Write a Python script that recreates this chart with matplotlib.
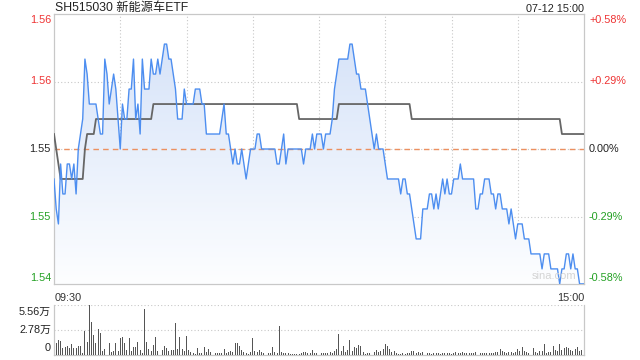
import numpy as np
import matplotlib
matplotlib.use('Agg')
import matplotlib.pyplot as plt
from matplotlib.colors import LinearSegmentedColormap
from matplotlib import transforms

title = "SH515030 新能源车ETF"
date_label = "07-12 15:00"
prev_close = 1.553
pct_levels = [0.58, 0.29, 0.0, -0.29, -0.58]
price_labels = ["1.56", "1.56", "1.55", "1.55", "1.54"]
pct_labels = ["+0.58%", "+0.29%", "0.00%", "-0.29%", "-0.58%"]
label_colors = ["#ee3333", "#ee3333", "#222222", "#22a022", "#22a022"]
time_labels = ["09:30", "15:00"]
vol_levels = [5.56, 2.78, 0]
vol_labels = ["5.56万", "2.78万", "0"]

prices = [
    1.551, 1.549, 1.548, 1.552, 1.550, 1.550, 1.552, 1.552, 1.551, 1.552,
    1.550, 1.553, 1.554, 1.555, 1.559, 1.558, 1.556, 1.556, 1.556, 1.556,
    1.555, 1.554, 1.554, 1.559, 1.558, 1.556, 1.557, 1.558, 1.557, 1.555,
    1.553, 1.556, 1.555, 1.555, 1.557, 1.557, 1.559, 1.555, 1.556, 1.554,
    1.559, 1.557, 1.557, 1.557, 1.559, 1.558, 1.558, 1.559, 1.558, 1.559,
    1.560, 1.560, 1.559, 1.559, 1.558, 1.557, 1.555, 1.555, 1.555, 1.557,
    1.556, 1.556, 1.556, 1.556, 1.557, 1.557, 1.557, 1.556, 1.556, 1.554,
    1.554, 1.554, 1.554, 1.554, 1.554, 1.554, 1.555, 1.556, 1.554, 1.554,
    1.553, 1.552, 1.553, 1.552, 1.552, 1.553, 1.552, 1.551, 1.552, 1.553,
    1.553, 1.553, 1.554, 1.554, 1.553, 1.553, 1.553, 1.553, 1.553, 1.553,
    1.553, 1.552, 1.552, 1.553, 1.554, 1.552, 1.553, 1.553, 1.553, 1.553,
    1.553, 1.553, 1.553, 1.552, 1.553, 1.553, 1.553, 1.554, 1.553, 1.554,
    1.554, 1.554, 1.553, 1.554, 1.554, 1.554, 1.555, 1.557, 1.558, 1.559,
    1.559, 1.559, 1.559, 1.559, 1.560, 1.560, 1.559, 1.558, 1.558, 1.557,
    1.557, 1.557, 1.556, 1.555, 1.554, 1.553, 1.554, 1.553, 1.553, 1.553,
    1.552, 1.551, 1.551, 1.551, 1.551, 1.551, 1.551, 1.550, 1.551, 1.551,
    1.550, 1.550, 1.549, 1.548, 1.547, 1.547, 1.547, 1.549, 1.549, 1.549,
    1.550, 1.550, 1.549, 1.550, 1.549, 1.550, 1.551, 1.550, 1.551, 1.550,
    1.550, 1.551, 1.551, 1.551, 1.552, 1.551, 1.551, 1.551, 1.551, 1.551,
    1.551, 1.549, 1.549, 1.550, 1.550, 1.551, 1.551, 1.551, 1.550, 1.550,
    1.549, 1.550, 1.550, 1.549, 1.549, 1.549, 1.548, 1.549, 1.548, 1.547,
    1.548, 1.548, 1.548, 1.547, 1.547, 1.547, 1.546, 1.546, 1.546, 1.546,
    1.546, 1.545, 1.546, 1.546, 1.546, 1.545, 1.545, 1.545, 1.545, 1.544,
    1.545, 1.545, 1.546, 1.546, 1.545, 1.546, 1.545, 1.545, 1.544, 1.544,
    1.544,
]

avg_prices = [
    1.554, 1.553, 1.552, 1.551, 1.551, 1.551, 1.551, 1.551, 1.551, 1.551,
    1.551, 1.551, 1.551, 1.551, 1.553, 1.554, 1.554, 1.554, 1.554, 1.555,
    1.555, 1.555, 1.555, 1.555, 1.555, 1.555, 1.555, 1.555, 1.555, 1.555,
    1.555, 1.555, 1.555, 1.555, 1.555, 1.555, 1.555, 1.555, 1.555, 1.555,
    1.555, 1.555, 1.555, 1.555, 1.555, 1.556, 1.556, 1.556, 1.556, 1.556,
    1.556, 1.556, 1.556, 1.556, 1.556, 1.556, 1.556, 1.556, 1.556, 1.556,
    1.556, 1.556, 1.556, 1.556, 1.556, 1.556, 1.556, 1.556, 1.556, 1.556,
    1.556, 1.556, 1.556, 1.556, 1.556, 1.556, 1.556, 1.556, 1.556, 1.556,
    1.556, 1.556, 1.556, 1.556, 1.556, 1.556, 1.556, 1.556, 1.556, 1.556,
    1.556, 1.556, 1.556, 1.556, 1.556, 1.556, 1.556, 1.556, 1.556, 1.556,
    1.556, 1.556, 1.556, 1.556, 1.556, 1.556, 1.556, 1.556, 1.556, 1.556,
    1.556, 1.555, 1.555, 1.555, 1.555, 1.555, 1.555, 1.555, 1.555, 1.555,
    1.555, 1.555, 1.555, 1.555, 1.555, 1.555, 1.555, 1.555, 1.555, 1.556,
    1.556, 1.556, 1.556, 1.556, 1.556, 1.556, 1.556, 1.556, 1.556, 1.556,
    1.556, 1.556, 1.556, 1.556, 1.556, 1.556, 1.556, 1.556, 1.556, 1.556,
    1.556, 1.556, 1.556, 1.556, 1.556, 1.556, 1.556, 1.556, 1.556, 1.556,
    1.556, 1.556, 1.555, 1.555, 1.555, 1.555, 1.555, 1.555, 1.555, 1.555,
    1.555, 1.555, 1.555, 1.555, 1.555, 1.555, 1.555, 1.555, 1.555, 1.555,
    1.555, 1.555, 1.555, 1.555, 1.555, 1.555, 1.555, 1.555, 1.555, 1.555,
    1.555, 1.555, 1.555, 1.555, 1.555, 1.555, 1.555, 1.555, 1.555, 1.555,
    1.555, 1.555, 1.555, 1.555, 1.555, 1.555, 1.555, 1.555, 1.555, 1.555,
    1.555, 1.555, 1.555, 1.555, 1.555, 1.555, 1.555, 1.555, 1.555, 1.555,
    1.555, 1.555, 1.555, 1.555, 1.555, 1.555, 1.555, 1.555, 1.555, 1.555,
    1.554, 1.554, 1.554, 1.554, 1.554, 1.554, 1.554, 1.554, 1.554, 1.554,
    1.554,
]

volumes = [
    3.71, 1.37, 1.67, 1.56, 0.82, 0.93, 1.00, 0.82, 1.19, 0.82,
    0.74, 1.00, 1.00, 0.19, 2.71, 1.48, 5.56, 3.71, 2.22, 1.37,
    2.89, 2.48, 0.44, 0.63, 2.22, 1.30, 0.37, 0.48, 1.30, 0.48,
    1.93, 1.96, 1.30, 0.56, 1.89, 0.44, 0.85, 0.93, 1.41, 0.56,
    0.26, 5.08, 1.48, 0.70, 0.48, 1.07, 1.96, 0.44, 0.37, 0.56,
    1.04, 0.74, 0.48, 0.56, 0.59, 3.60, 0.63, 2.04, 0.67, 0.48,
    2.11, 0.56, 0.37, 0.19, 0.15, 0.74, 0.19, 0.19, 0.89, 0.37,
    0.70, 0.37, 0.22, 0.19, 0.19, 0.19, 0.19, 0.70, 0.26, 0.37,
    0.44, 0.33, 1.37, 1.37, 0.96, 0.56, 0.37, 0.19, 0.15, 0.37,
    1.93, 0.48, 0.33, 0.52, 0.37, 0.19, 0.15, 0.26, 0.26, 0.93,
    0.33, 0.26, 3.26, 0.37, 0.22, 0.26, 0.19, 0.15, 0.15, 0.15,
    0.15, 0.15, 0.26, 0.30, 0.30, 0.19, 0.26, 0.52, 0.19, 0.26,
    0.37, 0.19, 0.19, 0.19, 0.22, 0.33, 0.22, 0.48, 0.63, 2.34,
    0.48, 1.00, 0.37, 0.56, 1.67, 0.48, 0.85, 0.74, 1.07, 1.04,
    0.37, 0.11, 0.19, 0.26, 0.89, 0.37, 0.52, 0.37, 0.48, 0.67,
    1.22, 0.96, 0.67, 0.37, 0.48, 0.19, 0.15, 0.11, 0.22, 0.15,
    0.26, 0.19, 0.44, 0.44, 0.26, 0.30, 0.22, 0.30, 0.19, 0.19,
    0.22, 0.11, 0.19, 0.19, 0.26, 0.11, 0.22, 0.19, 0.19, 0.19,
    0.15, 0.19, 0.33, 0.26, 0.26, 0.30, 0.19, 0.22, 0.19, 0.26,
    0.22, 0.30, 0.22, 0.22, 0.26, 0.19, 0.26, 0.19, 0.19, 0.26,
    0.30, 0.37, 0.67, 0.44, 0.37, 0.26, 0.30, 0.37, 0.22, 0.37,
    0.67, 0.48, 0.93, 0.48, 0.37, 0.26, 0.41, 0.74, 0.30, 0.26,
    0.48, 0.41, 1.22, 0.26, 0.30, 0.37, 1.00, 0.56, 0.48, 1.22,
    0.56, 0.74, 0.85, 0.74, 0.56, 0.44, 0.63, 0.85, 0.48, 0.56,
    0.48,
]

FONT = ['Liberation Sans', 'Noto Sans CJK SC', 'DejaVu Sans']
plt.rcParams['font.family'] = FONT

W, H = 640, 360
fig = plt.figure(figsize=(6.4, 3.6), dpi=100)
fig.patch.set_facecolor('white')

L, R = 54, 584
ax = fig.add_axes([L / W, 1 - 284 / H, (R - L) / W, (284 - 14) / H])
axv = fig.add_axes([L / W, 1 - 355 / H, (R - L) / W, (355 - 305) / H])

x = np.arange(len(prices))
n_end = len(prices) - 1
price_levels = [prev_close * (1 + p / 100) for p in pct_levels]
ymax, ymin = price_levels[0], price_levels[-1]

# gradient fill under the price line
poly = ax.fill_between(x, prices, ymin, facecolor='none', edgecolor='none')
grad = np.linspace(0, 1, 256).reshape(-1, 1)
cmap = LinearSegmentedColormap.from_list('g', ['#fdfeff', '#d2e0f8'])
im = ax.imshow(grad, extent=[0, n_end, ymin, ymax], origin='lower',
               aspect='auto', cmap=cmap, zorder=1, interpolation='bilinear')
im.set_clip_path(poly.get_paths()[0], transform=ax.transData)

grid_kw = dict(color='#c8c8c8', lw=0.8, ls=(0, (1, 2)), zorder=0.5)
for v in np.arange(30, n_end, 30):
    ax.axvline(v, **grid_kw)
for lv in price_levels[1:-1]:
    ax.axhline(lv, **grid_kw)
ax.axhline(prev_close, color='#ec9060', lw=1.0, ls=(0, (4, 3)), zorder=2)

ax.plot(x, avg_prices, color='#666666', lw=1.3, zorder=3)
ax.plot(x, prices, color='#4d8ef0', lw=1.0, zorder=4)

ax.set_xlim(0, n_end)
ax.set_ylim(ymin, ymax)
ax.set_xticks([])
ax.set_yticks([])
for s in ax.spines.values():
    s.set_color('#c8c8c8')
    s.set_linewidth(0.9)

bt = transforms.blended_transform_factory(ax.transAxes, ax.transData)
offs = [-6, 0, 0, 0, 6]
for lv, pl, ql, c, o in zip(price_levels, price_labels, pct_labels, label_colors, offs):
    tl = transforms.offset_copy(bt, fig=fig, x=-3, y=o, units='dots')
    tr = transforms.offset_copy(bt, fig=fig, x=5, y=o, units='dots')
    ax.text(0, lv, pl, transform=tl, ha='right', va='center', fontsize=7.8, color=c)
    ax.text(1, lv, ql, transform=tr, ha='left', va='center', fontsize=7.8, color=c)

ax.text(0.002, -0.035, time_labels[0], transform=ax.transAxes, ha='left', va='top',
        fontsize=7.8, color='#333333')
ax.text(1.0, -0.035, time_labels[1], transform=ax.transAxes, ha='right', va='top',
        fontsize=7.8, color='#333333')
ax.text(0.985, 0.01, "sina.com", transform=ax.transAxes, ha='right', va='bottom',
        fontsize=8, color='#d4d4d4', zorder=5)

fig.text(55 / W, 1 - 8.5 / H, title, ha='left', va='center', fontsize=8.8, color='#222222')
fig.text(R / W, 1 - 8.5 / H, date_label, ha='right', va='center', fontsize=7.8, color='#222222')

# volume panel
axv.bar(x, volumes, width=0.45, color='#555555', zorder=3)
axv.set_xlim(0, n_end)
axv.set_ylim(0, vol_levels[0])
axv.set_xticks([])
axv.set_yticks([])
for lv in vol_levels[:-1]:
    axv.axhline(lv, **grid_kw)
for k in ['left', 'right', 'bottom']:
    axv.spines[k].set_color('#c8c8c8')
    axv.spines[k].set_linewidth(0.9)
axv.spines['top'].set_visible(False)
btv = transforms.blended_transform_factory(axv.transAxes, axv.transData)
for lv, lab, o in zip(vol_levels, vol_labels, [-7, 0, 7]):
    t = transforms.offset_copy(btv, fig=fig, x=-3, y=o, units='dots')
    axv.text(0, lv, lab, transform=t, ha='right', va='center', fontsize=7.8, color='#222222')

fig.savefig('out.png', dpi=100, facecolor='white')
